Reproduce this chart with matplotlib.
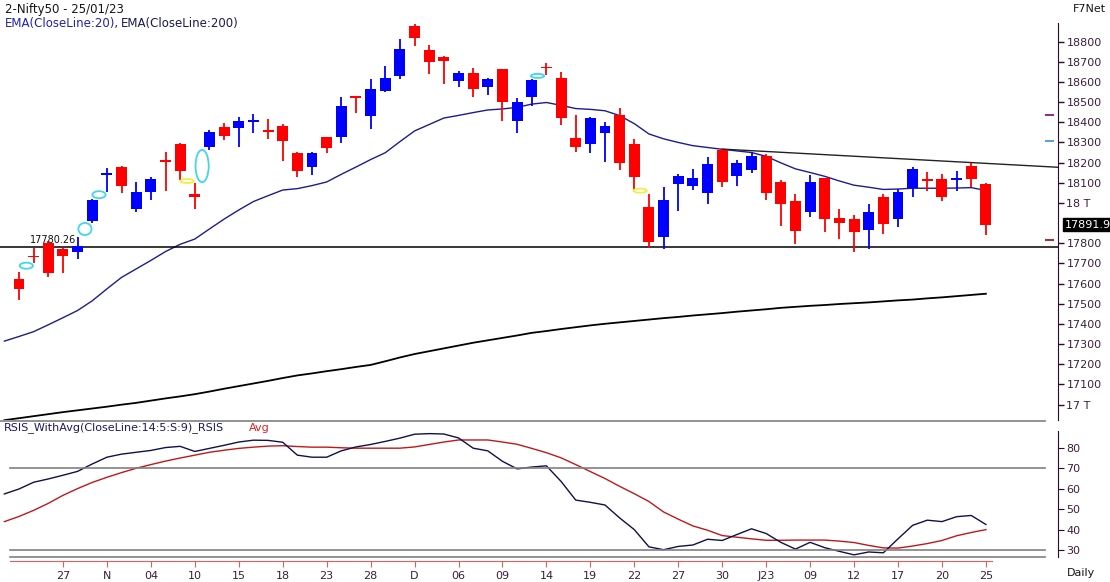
import matplotlib
matplotlib.use('Agg')
import matplotlib.pyplot as plt
from matplotlib.patches import Ellipse
from matplotlib.lines import Line2D
import matplotlib.transforms as mtrans
import numpy as np

# daily candles, Oct 21 2022 .. Jan 25 2023
opens = [17622, 17736, 17803, 17772, 17758, 17912, 18138, 18180, 17972, 18056,
         18212, 18292, 18044, 18276, 18375, 18370, 18402, 18362, 18383, 18246,
         18180, 18326, 18329, 18528, 18433, 18557, 18631, 18877, 18758, 18725,
         18605, 18643, 18576, 18664, 18408, 18527, 18675, 18618, 18321, 18291,
         18345, 18436, 18292, 17978, 17833, 18093, 18086, 18048, 18263, 18135,
         18163, 18234, 18102, 18010, 17954, 18122, 17924, 17919, 17866, 18031,
         17920, 18073, 18120, 18117, 18116, 18183, 18094]
highs = [17659, 17775, 17811, 17775, 17833, 18018, 18172, 18182, 18105, 18130,
         18251, 18295, 18097, 18362, 18395, 18425, 18441, 18416, 18391, 18254,
         18254, 18328, 18527, 18531, 18615, 18679, 18813, 18887, 18783, 18729,
         18654, 18668, 18618, 18666, 18519, 18613, 18695, 18651, 18436, 18428,
         18400, 18469, 18316, 18043, 18078, 18144, 18168, 18226, 18268, 18213,
         18254, 18243, 18114, 18044, 18139, 18125, 17970, 17940, 17995, 18043,
         18068, 18180, 18152, 18144, 18158, 18200, 18100]
lows = [17519, 17701, 17631, 17651, 17721, 17899, 18056, 18048, 17957, 18015,
        18059, 18114, 17968, 18263, 18312, 18279, 18345, 18316, 18210, 18130,
        18139, 18246, 18296, 18445, 18365, 18552, 18615, 18780, 18639, 18589,
        18576, 18527, 18535, 18408, 18345, 18481, 18634, 18387, 18254, 18246,
        18202, 18163, 18064, 17775, 17770, 17962, 18064, 17993, 18078, 18086,
        18147, 18015, 17887, 17795, 17932, 17855, 17820, 17758, 17770, 17846,
        17882, 18031, 18061, 18011, 18061, 18078, 17841]
closes = [17575, 17730, 17654, 17739, 17787, 18015, 18147, 18086, 18054, 18117,
          18203, 18158, 18032, 18350, 18333, 18406, 18410, 18352, 18309, 18160,
          18246, 18271, 18482, 18518, 18565, 18618, 18762, 18819, 18700, 18705,
          18643, 18565, 18615, 18502, 18501, 18610, 18667, 18420, 18276, 18420,
          18383, 18200, 18130, 17808, 18015, 18134, 18122, 18192, 18105, 18197,
          18234, 18048, 17993, 17862, 18102, 17919, 17899, 17858, 17954, 17896,
          18053, 18167, 18108, 18031, 18122, 18119, 17892]

# indicator lines start one bar earlier (Oct 20), clipped at the left edge
ema20 = [17315, 17338, 17362, 17396, 17431, 17467, 17515, 17574, 17631, 17673,
         17715, 17759, 17795, 17821, 17871, 17920, 17965, 18007, 18036, 18064,
         18071, 18086, 18104, 18142, 18178, 18215, 18249, 18304, 18357, 18389,
         18421, 18434, 18448, 18461, 18466, 18474, 18490, 18498, 18484, 18468,
         18464, 18457, 18433, 18393, 18342, 18318, 18300, 18284, 18275, 18266,
         18258, 18250, 18231, 18199, 18169, 18151, 18132, 18109, 18088, 18078,
         18067, 18069, 18073, 18073, 18073, 18074, 18076, 18062]
ema200 = [16923, 16933, 16943, 16953, 16963, 16972, 16981, 16990, 17000, 17009,
          17020, 17031, 17041, 17052, 17065, 17079, 17092, 17105, 17118, 17132,
          17145, 17155, 17166, 17176, 17187, 17197, 17215, 17234, 17251, 17265,
          17279, 17293, 17307, 17319, 17331, 17343, 17356, 17365, 17375, 17384,
          17393, 17401, 17408, 17415, 17422, 17429, 17435, 17442, 17448, 17454,
          17461, 17467, 17473, 17480, 17485, 17490, 17494, 17499, 17503, 17507,
          17512, 17517, 17521, 17527, 17532, 17538, 17544, 17550]
rsi = [57.5, 59.9, 63.2, 64.8, 66.6, 68.5, 72.1, 75.4, 76.9, 77.8,
       78.7, 80.1, 80.7, 78.2, 79.7, 81.2, 82.8, 83.7, 83.6, 82.7,
       76.4, 75.4, 75.4, 78.5, 80.4, 81.6, 83.1, 84.7, 86.6, 86.9,
       86.7, 84.8, 79.8, 78.5, 73.4, 69.7, 70.6, 71.2, 63.6, 54.5,
       53.4, 52.1, 45.8, 40.1, 31.7, 30.3, 31.9, 32.6, 35.4, 34.8,
       37.7, 40.5, 38.2, 33.9, 30.6, 33.9, 31.3, 29.5, 27.8, 29.2,
       28.8, 35.6, 42.2, 44.7, 44.0, 46.4, 47.0, 42.6]
rsi_avg = [44.0, 46.5, 49.5, 52.9, 56.8, 60.1, 63.1, 65.6, 67.9, 70.0,
           71.8, 73.5, 75.0, 76.4, 77.8, 78.8, 79.7, 80.3, 80.8, 81.0,
           80.6, 80.3, 80.3, 80.0, 79.8, 79.8, 79.8, 79.8, 80.4, 81.6,
           82.8, 83.8, 83.8, 83.8, 82.8, 81.7, 79.7, 77.6, 75.1, 71.8,
           68.4, 65.0, 61.2, 57.6, 53.8, 48.7, 45.2, 41.9, 39.8, 37.2,
           36.4, 35.6, 34.9, 34.9, 35.0, 35.0, 35.0, 34.5, 33.8, 32.4,
           31.2, 31.1, 32.1, 33.3, 34.8, 37.1, 38.7, 40.1]

xlabels = ['27', 'N', '04', '10', '15', '18', '23', '28', 'D', '06', '09',
           '14', '19', '22', '27', '30', 'J23', '09', '12', '17', '20', '25']
xlabel_pos = list(range(3, 67, 3))

# pattern marker ellipses: bar position, price, height, colour
mark_x = [0.5, 4.5, 5.46, 11.47, 12.5, 35.4, 42.4]
mark_y = [17689, 17871, 18041, 18109, 18183, 18630, 18061]
mark_h = [30, 60, 35, 20, 160, 20, 20]
mark_c = ['#40d8e8', '#40d8e8', '#40d8e8', '#f0f040', '#40d8e8', '#40d8e8', '#f0f040']

support = 17780.26
trend_x = [48, 70.9]
trend_y = [18267, 18177]
side_marks = [18436, 18309, 17816]
side_cols = ['#800080', '#3090e0', '#a00000']
last_close = 17891.9

W, H = 1110, 582
fig = plt.figure(figsize=(W / 100, H / 100), dpi=100)
fig.patch.set_facecolor('white')

axc = '#2b0b2b'
labc = '#3c1e3c'

ax = fig.add_axes([0, 1 - 420 / H, 1058 / W, 400 / H])
x0, x1 = -19 / 14.65, (1058 - 19) / 14.65
ax.set_xlim(x0, x1)
ax.set_ylim(16924, 18907)

idx = np.arange(len(opens))
o = np.array(opens); c = np.array(closes)
cols = np.where(c >= o, '#0000ff', '#ff0000')
ax.vlines(idx, lows, highs, colors=cols, lw=1.3, zorder=3)
ax.bar(idx, np.maximum(np.abs(c - o), 7), bottom=np.minimum(o, c), width=0.75,
       color=cols, zorder=4)

lx = np.arange(-1, len(opens))
ax.plot(lx, ema20, color='#1c1c90', lw=1)
ax.plot(lx, ema200, color='black', lw=1.3)

ax.axhline(support, xmin=-0.01, xmax=1, color='black', lw=1.1, clip_on=False)
ax.text(0.75, support + 12, '17780.26', fontsize=7, color='#111111', va='bottom')
ax.plot(trend_x, trend_y, color='#222222', lw=1)

for mx, my, mh, mc in zip(mark_x, mark_y, mark_h, mark_c):
    ax.add_patch(Ellipse((mx, my), 0.9, mh, fill=False, edgecolor=mc, lw=1.3, zorder=5))

for v, col in zip(side_marks, side_cols):
    ax.hlines(v, 70.03, 70.65, colors=col, lw=1.2)

for s in ['top', 'left', 'bottom']:
    ax.spines[s].set_visible(False)
ax.spines['right'].set_color(axc)
ax.spines['right'].set_bounds(16924, 18893)
ax.set_xticks([])
yt = [v for v in range(17000, 18900, 100) if v != 17900]
ax.yaxis.tick_right()
ax.set_yticks(yt)
ax.set_yticklabels(['17 T' if v == 17000 else '18 T' if v == 18000 else str(v) for v in yt])
ax.tick_params(axis='y', direction='out', length=4, width=1, color=axc,
               labelcolor=labc, labelsize=8, pad=2)

tr = mtrans.blended_transform_factory(ax.transAxes, ax.transData)
ax.text(1.006, last_close, '17891.9', transform=tr, fontsize=8, color='white', va='center',
        bbox=dict(boxstyle='square,pad=0.15', fc='black', ec='black'), clip_on=False)

# RSI panel
ax2 = fig.add_axes([0, 1 - 561 / H, 1058 / W, 136 / H])
ax2.set_xlim(x0, x1)
ax2.set_ylim(24.8, 91.1)
ax2.plot(lx, rsi_avg, color='#c01818', lw=1)
ax2.plot(lx, rsi, color='#10104a', lw=1)
for lv in [70, 30, 26.6]:
    ax2.axhline(lv, xmin=10 / 1058, xmax=1045 / 1058, color='#808080', lw=1.2)
for s in ['top', 'left']:
    ax2.spines[s].set_visible(False)
ax2.spines['right'].set_color(axc)
ax2.spines['right'].set_bounds(26.9, 88.2)
ax2.spines['bottom'].set_color('#e06060')
ax2.spines['bottom'].set_bounds(-0.61, 66.4)
ax2.yaxis.tick_right()
ax2.set_yticks([30, 40, 50, 60, 70, 80])
ax2.tick_params(axis='y', direction='out', length=4, color=axc, labelcolor=labc,
                labelsize=8, pad=2)
ax2.set_xticks(xlabel_pos)
ax2.set_xticklabels(xlabels)
ax2.tick_params(axis='x', direction='out', length=4, color='#e06060', labelcolor=labc,
                labelsize=8, pad=3)

fig.add_artist(Line2D([0, 1045 / W], [1 - 420.5 / H] * 2, color='#808080', lw=1.2))

fig.text(5 / W, 1 - 9 / H, '2-Nifty50 - 25/01/23', fontsize=8.5, color='#151515', va='center')
fig.text(5 / W, 1 - 23 / H, 'EMA(CloseLine:20),', fontsize=8.5, color='#2222b0', va='center')
fig.text(121 / W, 1 - 23 / H, 'EMA(CloseLine:200)', fontsize=8.5, color='#1a1a50', va='center')
fig.text(1106 / W, 1 - 9 / H, 'F7Net', fontsize=8, color='#151515', va='center', ha='right')
fig.text(4 / W, 1 - 428 / H, 'RSIS_WithAvg(CloseLine:14:5:S:9)_RSIS', fontsize=8,
         color='#1a1a60', va='center')
fig.text(249 / W, 1 - 428 / H, 'Avg', fontsize=8, color='#e02020', va='center')
fig.text(1067 / W, 1 - 573 / H, 'Daily', fontsize=8, color='#151515', va='center')

fig.savefig('out.png', dpi=100)
